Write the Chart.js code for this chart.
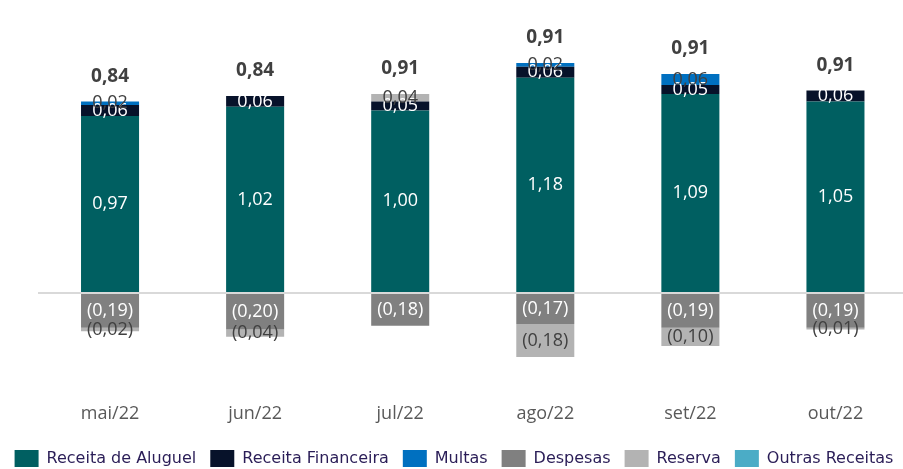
<!DOCTYPE html>
<html>
<head>
<meta charset="utf-8">
<script src="https://cdn.jsdelivr.net/npm/chart.js@4"></script>
<style>
  html, body { margin: 0; padding: 0; overflow: hidden; background: #fff; }
  #wrap { width: 908px; height: 469px; }
</style>
</head>
<body>
<div id="wrap"><canvas id="c" width="908" height="469"></canvas></div>
<script>
const meses = ['mai/22', 'jun/22', 'jul/22', 'ago/22', 'set/22', 'out/22'];
const aluguel = [0.97, 1.02, 1.00, 1.18, 1.09, 1.05];
const financeira = [0.06, 0.06, 0.05, 0.06, 0.05, 0.06];
const multas = [0.02, 0, 0, 0.02, 0.06, 0];
const despesas = [-0.19, -0.20, -0.18, -0.17, -0.19, -0.19];
const reserva = [-0.02, -0.04, 0.04, -0.18, -0.10, -0.01];
const outras = [0, 0, 0, 0, 0, 0];

const fmt = v => {
  const s = Math.abs(v).toFixed(2).replace('.', ',');
  return v < 0 ? '(' + s + ')' : s;
};

// rótulos dentro das barras + total em cima
const rotulos = {
  id: 'rotulos',
  afterDatasetsDraw(chart) {
    const ctx = chart.ctx;
    ctx.save();
    ctx.textAlign = 'center';
    ctx.textBaseline = 'middle';
    ctx.font = '18px "Open Sans"';
    chart.data.datasets.forEach((ds, i) => {
      const meta = chart.getDatasetMeta(i);
      meta.data.forEach((el, j) => {
        const v = ds.data[j];
        if (!v) return;
        ctx.fillStyle = ds.labelColor;
        ctx.fillText(fmt(v), el.x, (el.y + el.base) / 2);
      });
    });
    const y = chart.scales.y;
    ctx.font = 'bold 19px "Open Sans"';
    ctx.fillStyle = '#404040';
    meses.forEach((m, j) => {
      let pos = 0, tot = 0;
      chart.data.datasets.forEach(ds => {
        const v = ds.data[j];
        tot += v;
        if (v > 0) pos += v;
      });
      const x = chart.getDatasetMeta(0).data[j].x;
      ctx.fillText(fmt(Math.round(tot * 100) / 100), x, y.getPixelForValue(pos) - 25);
    });
    ctx.restore();
  }
};

const chart = new Chart(document.getElementById('c'), {
  type: 'bar',
  data: {
    labels: meses,
    datasets: [
      { label: 'Receita de Aluguel', data: aluguel, backgroundColor: '#005f61', labelColor: '#ffffff' },
      { label: 'Receita Financeira', data: financeira, backgroundColor: '#07122a', labelColor: '#ffffff' },
      { label: 'Multas', data: multas, backgroundColor: '#0070c0', labelColor: '#404040' },
      { label: 'Despesas', data: despesas, backgroundColor: '#808080', labelColor: '#ffffff' },
      { label: 'Reserva', data: reserva, backgroundColor: '#b3b3b3', labelColor: '#404040' },
      { label: 'Outras Receitas', data: outras, backgroundColor: '#4bacc6', labelColor: '#404040' }
    ]
  },
  options: {
    responsive: false,
    animation: false,
    layout: { padding: { left: 0, right: 0, top: 10, bottom: -8 } },
    datasets: { bar: { barPercentage: 0.5, categoryPercentage: 0.8 } },
    scales: {
      x: {
        stacked: true,
        grid: { display: false },
        border: { display: false },
        ticks: { color: '#595959', font: { family: 'Open Sans', size: 18 }, padding: 11 }
      },
      y: {
        stacked: true,
        min: -0.62,
        max: 1.5,
        afterFit: s => { s.width = 37.5; },
        border: { display: false },
        ticks: { display: false },
        grid: {
          color: c => c.tick.value === 0 ? '#d9d9d9' : 'rgba(0,0,0,0)',
          lineWidth: 2,
          drawTicks: false
        }
      }
    },
    plugins: {
      tooltip: { enabled: false },
      legend: {
        position: 'bottom',
        labels: {
          boxWidth: 24,
          boxHeight: 17,
          padding: 14,
          color: '#2a1d57',
          font: { family: 'DejaVu Sans', size: 16 }
        }
      }
    }
  },
  plugins: [rotulos]
});

// zero em y=293 e ~182,5 px por unidade, como no original
const ca = chart.chartArea;
chart.options.scales.y.min = -(ca.bottom - 293) / 182.5;
chart.options.scales.y.max = (293 - ca.top) / 182.5;
chart.update();
</script>
</body>
</html>
